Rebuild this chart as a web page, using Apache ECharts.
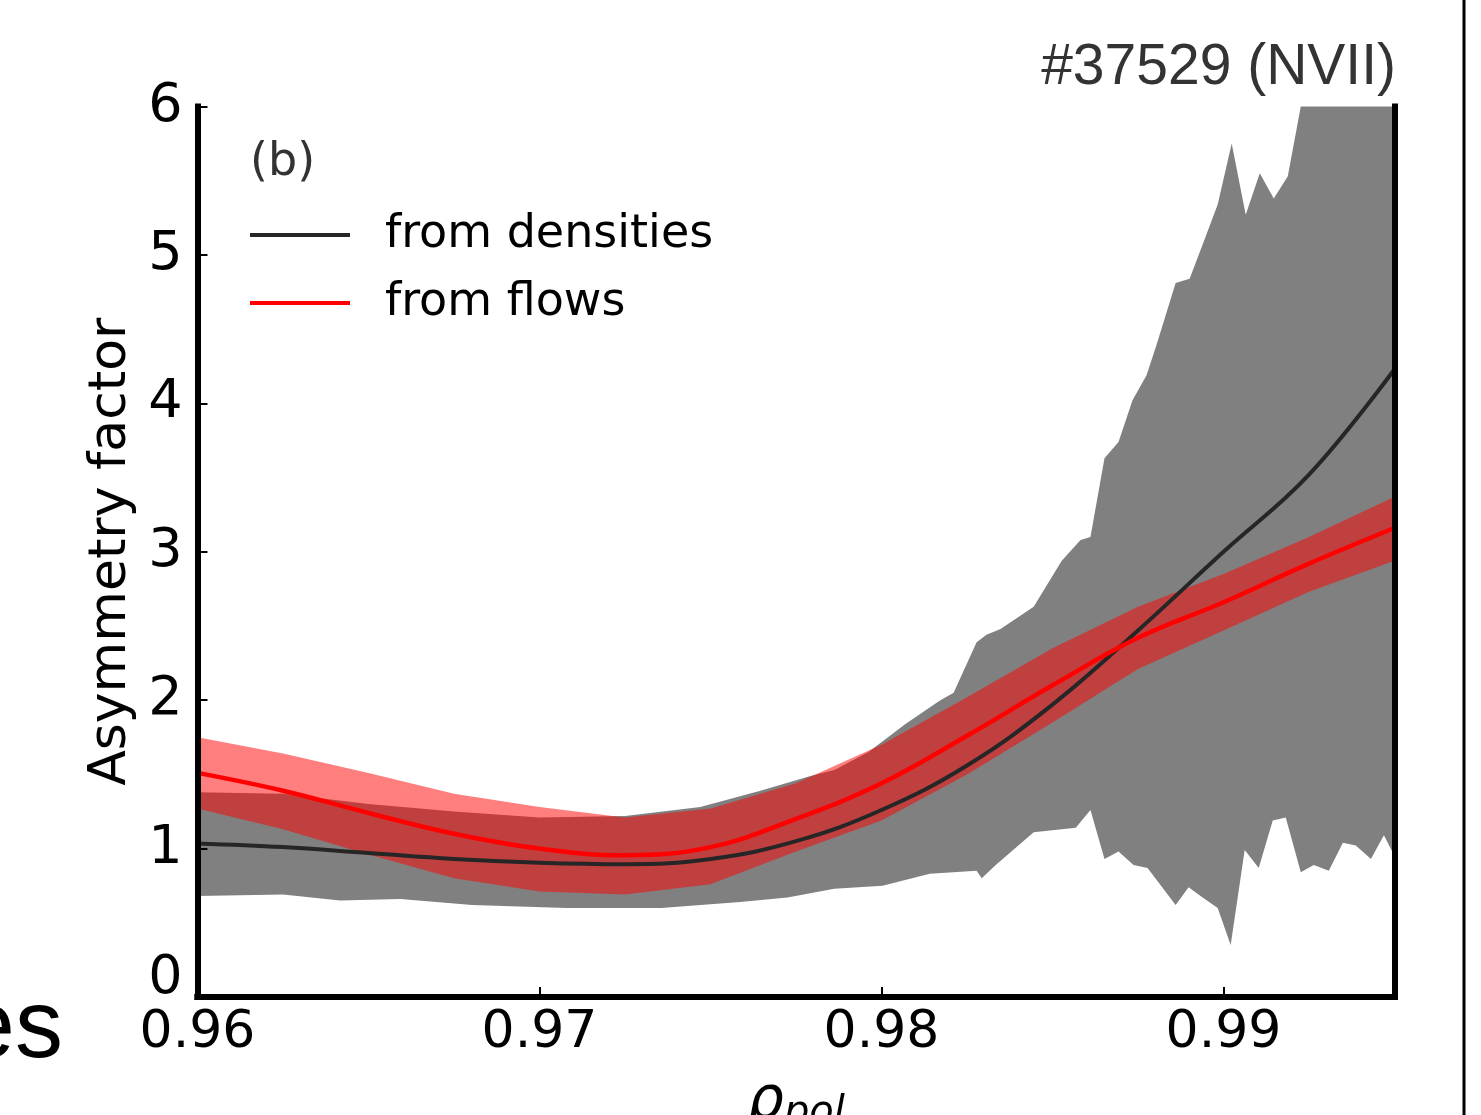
<!DOCTYPE html>
<html>
<head>
<meta charset="utf-8">
<script src="https://cdn.jsdelivr.net/npm/echarts@6/dist/echarts.min.js"></script>
<style>
  html, body { margin: 0; padding: 0; background: #fff; }
  #chart { width: 1481px; height: 1115px; }
</style>
</head>
<body>
<div id="chart"></div>
<script>
// rho_pol grid for the smooth curves
const rho = [0.96, 0.9625, 0.965, 0.9675, 0.97, 0.9725, 0.975, 0.9775, 0.98, 0.9825, 0.985, 0.9875, 0.99, 0.9925, 0.995];
const fromDensities = [1.035, 1.01, 0.97, 0.93, 0.905, 0.895, 0.93, 1.05, 1.26, 1.56, 1.97, 2.47, 3.0, 3.52, 4.23];
const fromFlows = [1.51, 1.39, 1.24, 1.10, 1.00, 0.955, 1.01, 1.20, 1.44, 1.76, 2.10, 2.42, 2.66, 2.92, 3.16];
const flowsUpper = [1.75, 1.64, 1.51, 1.37, 1.28, 1.21, 1.27, 1.44, 1.70, 2.02, 2.35, 2.63, 2.85, 3.10, 3.37];
const flowsLower = [1.27, 1.13, 0.96, 0.80, 0.71, 0.69, 0.76, 0.98, 1.19, 1.50, 1.85, 2.21, 2.47, 2.73, 2.94];

// uncertainty of the density based factor (noisy near the edge)
const densUpperRho = [0.96, 0.9625, 0.965, 0.9675, 0.97, 0.9725, 0.9747, 0.97646, 0.97795, 0.97862, 0.97962, 0.9807,
  0.98172, 0.98211, 0.98278, 0.98307, 0.98348, 0.98445, 0.98527, 0.98582, 0.98611, 0.98652, 0.98693, 0.98734,
  0.98775, 0.98805, 0.9886, 0.98901, 0.98939, 0.98983, 0.99024, 0.99065, 0.99106, 0.99147, 0.99188, 0.99226,
  0.9927, 0.995];
const densUpper = [1.38, 1.37, 1.30, 1.25, 1.21, 1.22, 1.28, 1.39, 1.49, 1.53, 1.65, 1.84,
  2.00, 2.05, 2.39, 2.44, 2.48, 2.63, 2.94, 3.08, 3.10, 3.63, 3.74, 4.02,
  4.19, 4.40, 4.81, 4.84, 5.07, 5.34, 5.75, 5.27, 5.55, 5.38, 5.53, 6.0,
  6.8, 7.5];
const densLowerRho = [0.96, 0.9625, 0.96417, 0.96593, 0.96803, 0.97078, 0.97356, 0.97587, 0.97725, 0.97862, 0.98003,
  0.98141, 0.98278, 0.98293, 0.98334, 0.98445, 0.98568, 0.98611, 0.98652, 0.98693, 0.98737, 0.98778, 0.9886,
  0.98898, 0.98939, 0.98983, 0.99021, 0.99062, 0.99103, 0.99144, 0.99182, 0.99226, 0.99264, 0.99308, 0.99349,
  0.99387, 0.99431, 0.99469, 0.995];
const densLower = [0.68, 0.69, 0.65, 0.66, 0.62, 0.60, 0.60, 0.64, 0.67, 0.73, 0.75,
  0.83, 0.85, 0.80, 0.89, 1.11, 1.14, 1.26, 0.93, 0.98, 0.89, 0.87, 0.62,
  0.74, 0.67, 0.60, 0.35, 0.99, 0.87, 1.19, 1.21, 0.84, 0.89, 0.85, 1.04,
  1.02, 0.93, 1.09, 0.95];

const xTicks = [0.96, 0.97, 0.98, 0.99];
const yTicks = [0, 1, 2, 3, 4, 5, 6];

const FONT = 'DejaVu Sans';

function band(xu, yu, xl, yl) {
  const top = xu.map((x, i) => [x, yu[i]]);
  const bottom = xl.map((x, i) => [x, yl[i]]).reverse();
  return top.concat(bottom);
}

function bandRenderer(pts, fill) {
  return function (params, api) {
    if (params.dataIndex !== 0) return;
    const cs = params.coordSys;
    const px = pts.map(p => api.coord(p));
    return {
      type: 'polygon',
      shape: { points: echarts.graphic.clipPointsByRect(px, { x: cs.x, y: cs.y, width: cs.width, height: cs.height }) },
      style: { fill: fill }
    };
  };
}

const grayBand = band(densUpperRho, densUpper, densLowerRho, densLower);
const redBand = band(rho, flowsUpper, rho, flowsLower);

var chart = echarts.init(document.getElementById('chart'));

const frame = { show: true, lineStyle: { color: '#000', width: 6, cap: 'square' } };

var option = {
  animation: false,
  backgroundColor: '#fff',
  grid: { left: 197.5, right: 86.5, top: 106.5, bottom: 118, outerBoundsMode: 'none', containLabel: false },
  legend: {
    orient: 'vertical', left: 250, top: 210, padding: 0,
    itemWidth: 100, itemHeight: 4, itemGap: 18, icon: 'rect',
    data: ['from densities', 'from flows'],
    textStyle: { fontFamily: FONT, fontSize: 46, color: '#000', lineHeight: 50, padding: [0, 0, 0, 30] }
  },
  xAxis: [{
    type: 'value', min: 0.96, max: 0.995, interval: 0.01, z: 10,
    axisLine: frame,
    axisTick: { show: true, inside: true, length: 10, lineStyle: { color: '#000', width: 2 } },
    splitLine: { show: false },
    axisLabel: {
      fontFamily: FONT, fontSize: 52, color: '#000', margin: 10, showMaxLabel: false,
      formatter: v => xTicks.some(t => Math.abs(t - v) < 1e-9) ? v.toFixed(2) : ''
    },
    name: '{a|ρ}{b|pol}', nameLocation: 'middle', nameGap: 76,
    nameTextStyle: {
      rich: {
        a: { fontFamily: FONT, fontStyle: 'italic', fontSize: 58, lineHeight: 60, color: '#000' },
        b: { fontFamily: FONT, fontStyle: 'italic', fontSize: 40, lineHeight: 60, color: '#000', padding: [22, 0, 0, 0] }
      }
    }
  }, {
    type: 'value', min: 0.96, max: 0.995, position: 'top', z: 10,
    axisLine: frame, axisTick: { show: false }, axisLabel: { show: false }, splitLine: { show: false }
  }],
  yAxis: [{
    type: 'value', min: 0, max: 6, interval: 1, z: 10,
    axisLine: frame,
    axisTick: { show: true, inside: true, length: 10, lineStyle: { color: '#000', width: 2 } },
    splitLine: { show: false },
    axisLabel: {
      fontFamily: FONT, fontSize: 54, color: '#000', margin: 15,
      // the zero label sits a little higher, clear of the x labels
      formatter: v => v === 0 ? '{z|0}' : (yTicks.indexOf(v) >= 0 ? String(v) : ''),
      rich: { z: { fontFamily: FONT, fontSize: 54, color: '#000', padding: [0, 0, 36, 0] } }
    },
    name: 'Asymmetry factor', nameLocation: 'middle', nameGap: 59,
    nameTextStyle: { fontFamily: FONT, fontSize: 52, color: '#000' }
  }, {
    type: 'value', min: 0, max: 6, position: 'right', z: 10,
    axisLine: frame, axisTick: { show: false }, axisLabel: { show: false }, splitLine: { show: false }
  }],
  graphic: [
    { type: 'text', x: 1396, y: 68, z: 20,
      style: { text: '#37529 (NVII)', fill: '#333', font: '57px "Liberation Sans"', textAlign: 'right', textVerticalAlign: 'middle' } },
    { type: 'text', x: 250, y: 163, z: 20,
      style: { text: '(b)', fill: '#333', font: '46px "DejaVu Sans"', textAlign: 'left', textVerticalAlign: 'middle' } },
    { type: 'text', x: 63, y: 1031, z: 20,
      style: { text: 'es', fill: '#000', font: '96px "Liberation Sans"', textAlign: 'right', textVerticalAlign: 'middle' } },
    { type: 'line', z: 20, shape: { x1: 1464, y1: 0, x2: 1464, y2: 1115 }, style: { stroke: '#000', lineWidth: 3 } }
  ],
  series: [
    {
      type: 'custom', name: 'densities band', silent: true, z: 1,
      data: grayBand, encode: { x: 0, y: 1 },
      renderItem: bandRenderer(grayBand, '#808080')
    },
    {
      type: 'custom', name: 'flows band', silent: true, z: 2,
      data: redBand, encode: { x: 0, y: 1 },
      renderItem: bandRenderer(redBand, 'rgba(255,0,0,0.5)')
    },
    {
      type: 'line', name: 'from densities', z: 3, smooth: 0.4, symbol: 'none',
      data: rho.map((x, i) => [x, fromDensities[i]]),
      lineStyle: { color: '#262626', width: 4 }, itemStyle: { color: '#262626' }
    },
    {
      type: 'line', name: 'from flows', z: 4, smooth: 0.4, symbol: 'none',
      data: rho.map((x, i) => [x, fromFlows[i]]),
      lineStyle: { color: '#ff0000', width: 4.5 }, itemStyle: { color: '#ff0000' }
    }
  ]
};

chart.setOption(option);
</script>
</body>
</html>
